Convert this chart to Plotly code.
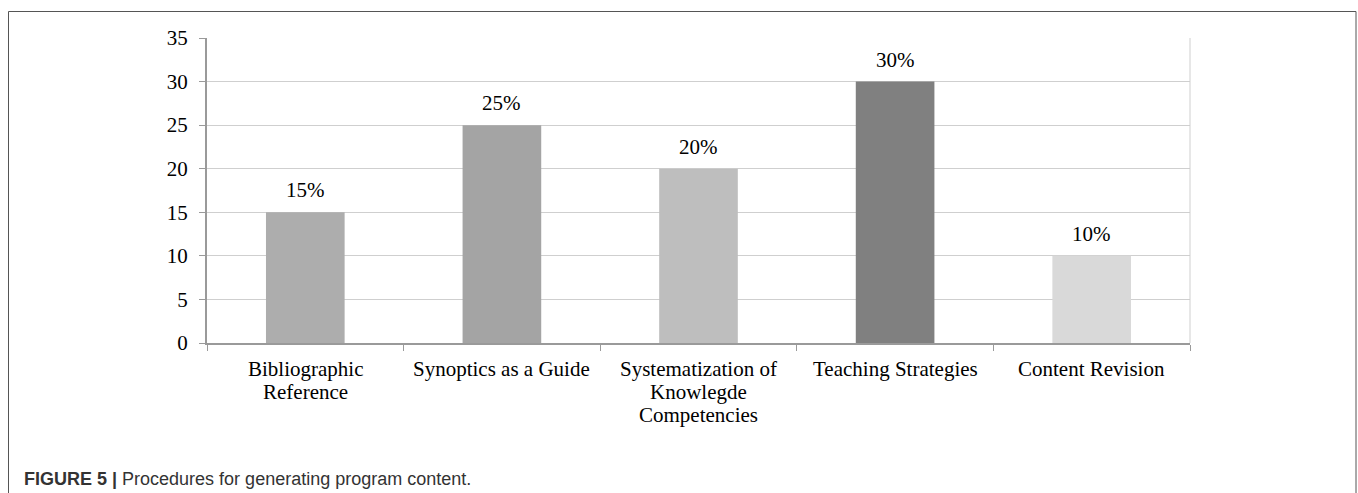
import plotly.graph_objects as go

categories = ["Bibliographic<br>Reference", "Synoptics as a Guide",
              "Systematization of<br>Knowlegde<br>Competencies",
              "Teaching Strategies", "Content Revision"]
values = [15, 25, 20, 30, 10]
labels = ["15%", "25%", "20%", "30%", "10%"]
colors = ["#adadad", "#a4a4a4", "#bebebe", "#808080", "#d9d9d9"]
y_ticks = [0, 5, 10, 15, 20, 25, 30, 35]

W, H = 1358, 493
L, R, T, B = 207, 1190, 38, 343
pw, ph = R - L, B - T
FS = 21
SERIF = "Liberation Serif"


def px_x(x):
    return (x - L) / pw


def px_y(y):
    return (B - y) / ph


cat_keys = [c.replace("<br>", " ") for c in categories]

fig = go.Figure()
fig.add_trace(go.Bar(
    x=cat_keys, y=values, marker=dict(color=colors, line=dict(width=0)),
    hoverinfo="skip",
))

annotations = []
# value labels above bars
for k, v, t in zip(cat_keys, values, labels):
    annotations.append(dict(
        x=k, y=v, xref="x", yref="y", text=t, showarrow=False,
        xanchor="center", yanchor="bottom", yshift=8,
        font=dict(family=SERIF, size=FS, color="#000"),
    ))
# category labels (one annotation per line for tighter line spacing)
for k, c in zip(cat_keys, categories):
    for i, line in enumerate(c.split("<br>")):
        annotations.append(dict(
            x=k, xref="x", yref="paper", y=px_y(368.5 + 23.4 * i),
            text=line, showarrow=False, xanchor="center", yanchor="middle",
            font=dict(family=SERIF, size=FS, color="#000"),
        ))
annotations.append(dict(
    xref="paper", yref="paper", x=px_x(22), y=px_y(478.5),
    xanchor="left", yanchor="middle", showarrow=False,
    text="<b>FIGURE 5 |</b> Procedures for generating program content.",
    font=dict(family="Liberation Sans", size=18, color="#333333"),
))

fig.update_layout(
    width=W, height=H,
    margin=dict(l=L, r=W - R, t=T, b=H - B, pad=0),
    paper_bgcolor="white", plot_bgcolor="white",
    bargap=0.6, showlegend=False,
    font=dict(family=SERIF, size=FS, color="#000"),
    xaxis=dict(
        type="category",
        showline=True, linecolor="#9a9a9a", linewidth=2,
        ticks="outside", tickson="boundaries", ticklen=6, tickcolor="#9a9a9a",
        showgrid=False, showticklabels=False, fixedrange=True,
    ),
    yaxis=dict(
        range=[0, 35], tickvals=y_ticks, showline=True, linecolor="#9a9a9a",
        linewidth=2, ticks="outside", ticklen=6, tickcolor="#9a9a9a",
        ticklabelstandoff=7,
        showgrid=True, gridcolor="#cfcfcf", gridwidth=1, zeroline=False,
        tickfont=dict(family=SERIF, size=FS, color="#000"), fixedrange=True,
    ),
    shapes=[
        dict(type="line", xref="paper", yref="paper", x0=1, x1=1, y0=0, y1=1,
             line=dict(color="#cfcfcf", width=1)),
        dict(type="rect", xref="paper", yref="paper",
             x0=px_x(8.5), x1=px_x(1356), y0=px_y(520), y1=px_y(11.5),
             line=dict(color="#555555", width=1), fillcolor="rgba(0,0,0,0)"),
    ],
    annotations=annotations,
)

fig.write_html("out.html")
